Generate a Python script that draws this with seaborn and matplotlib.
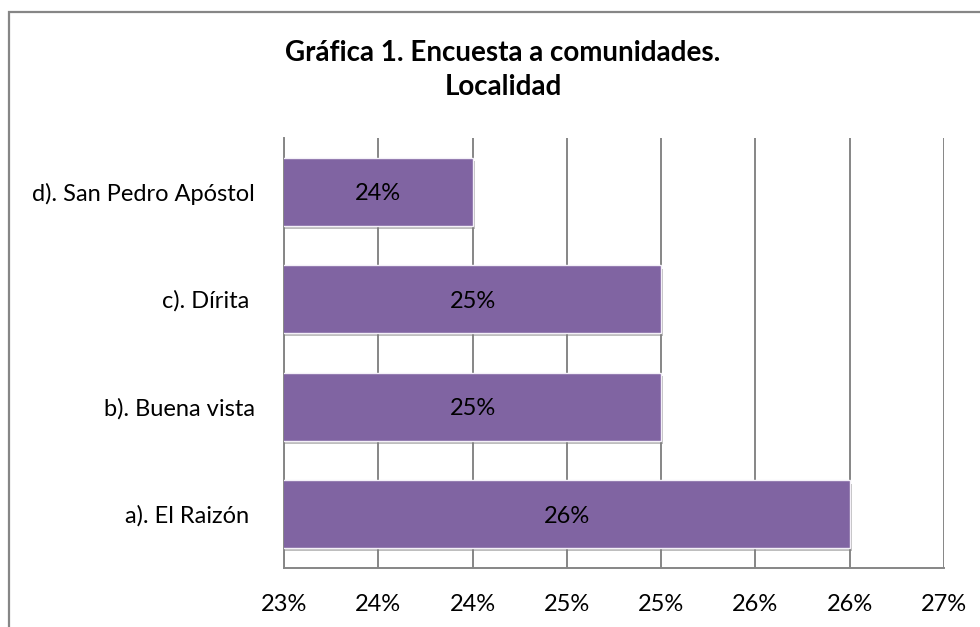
import matplotlib
matplotlib.use("Agg")
import matplotlib.pyplot as plt
import matplotlib.patheffects as pe
from matplotlib.patches import Rectangle
import seaborn as sns
import pandas as pd

# Survey data: share of respondents per locality (top to bottom)
localidades = ["d). San Pedro Apóstol", "c). Dírita ", "b). Buena vista", "a). El Raizón "]
porcentajes = [0.24, 0.25, 0.25, 0.26]

# X axis ticks and their printed labels
x_ticks = [0.23, 0.235, 0.24, 0.245, 0.25, 0.255, 0.26, 0.265]
x_tick_labels = ["23%", "24%", "24%", "25%", "25%", "26%", "26%", "27%"]

titulo = "Gráfica 1. Encuesta a comunidades.\nLocalidad"

sns.set_theme(style="white")
plt.rcParams["font.family"] = ["Lato", "DejaVu Sans"]

df = pd.DataFrame({"localidad": localidades, "pct": porcentajes})

W, H = 980, 627
fig = plt.figure(figsize=(W / 100, H / 100), dpi=100)
ax = fig.add_axes([284 / W, (H - 568) / H, (944 - 284) / W, (568 - 138) / H])

grid_color = "#868686"
bar_color = "#8064A2"
fs = 17

sns.barplot(data=df, x="pct", y="localidad", order=localidades, orient="h",
            color=bar_color, saturation=1, width=0.63, ax=ax,
            edgecolor="#f4f0f8", linewidth=1.0, zorder=3)

for bar in ax.patches:
    bar.set_path_effects([
        pe.SimplePatchShadow(offset=(1.5, -2.4), shadow_rgbFace="#7f7f7f", alpha=0.5),
        pe.Normal(),
    ])

ax.set_xlim(x_ticks[0], x_ticks[-1])
ax.set_xticks(x_ticks)
ax.set_xticklabels(x_tick_labels)
ax.xaxis.grid(True, color=grid_color, linewidth=1.4, zorder=0)
ax.set_axisbelow(True)
ax.tick_params(axis="both", length=0, labelsize=fs, colors="black")
ax.tick_params(axis="x", pad=19)
ax.tick_params(axis="y", pad=21)
ax.set_xlabel("")
ax.set_ylabel("")

for side in ["top", "right"]:
    ax.spines[side].set_visible(False)
for side in ["left", "bottom"]:
    ax.spines[side].set_color(grid_color)
    ax.spines[side].set_linewidth(1.4)

# value labels centred in each bar
for bar, v in zip(ax.patches, porcentajes):
    xc = (max(bar.get_x(), x_ticks[0]) + bar.get_x() + bar.get_width()) / 2
    ax.text(xc, bar.get_y() + bar.get_height() / 2 + 0.02, f"{v:.0%}",
            ha="center", va="center", fontsize=fs, color="black", zorder=5)

fig.text(503 / W, 1 - 70 / H, titulo, ha="center", va="center", color="black",
         fontsize=20, fontweight="bold", linespacing=1.4)

# chart area border
fig.patches.append(Rectangle((8.5 / W, -0.2), 2, 1.2 - 12.5 / H,
                             transform=fig.transFigure, fill=False,
                             edgecolor=grid_color, linewidth=1.6))

fig.savefig("out.png", dpi=100, facecolor="white")
